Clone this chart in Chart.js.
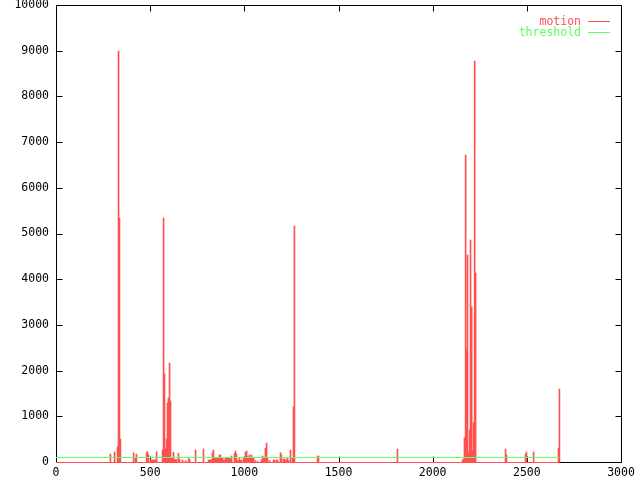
<!DOCTYPE html>
<html><head><meta charset="utf-8">
<script src="https://cdn.jsdelivr.net/npm/chart.js@4/dist/chart.umd.min.js"></script>
<style>html,body{margin:0;padding:0;background:#fff}#wrap{width:640px;height:480px}</style>
</head><body><div id="wrap"><canvas id="c" width="640" height="480"></canvas></div>
<script>
// ---- data ----
const frames = [289,311,327,332,337,342,412,422,427,481,486,491,502,507,512,518,523,528,534,
  566,571,576,582,587,592,597,603,608,613,619,624,629,634,640,650,656,672,688,704,709,
  741,783,810,815,820,826,831,836,842,847,852,858,863,868,873,879,884,889,895,900,905,911,916,921,927,932,
  948,953,958,964,969,974,980,985,996,1001,1006,1012,1017,1022,1027,1033,1038,1043,1049,1059,1070,
  1091,1097,1102,1107,1112,1118,1123,1134,1155,1160,1171,1176,1192,1197,1208,1213,1219,1224,1229,1235,
  1245,1256,1261,1266,1389,1394,1813,
  2159,2164,2169,2175,2180,2185,2191,2196,2201,2207,2212,2217,2223,2228,
  2387,2392,2493,2498,2536,2668,2673];
const motion = [175,219,335,8990,5340,500,204,100,175,204,226,160,44,44,44,44,44,44,226,
  263,5340,1925,284,503,1290,1400,2166,1335,102,87,215,44,58,58,190,58,44,30,66,66,
  263,285,44,44,44,44,204,263,102,80,80,80,80,153,153,80,80,44,44,80,102,102,102,102,66,131,
  190,240,175,30,30,80,30,44,102,102,219,240,116,80,153,80,153,80,80,30,10,
  44,131,66,102,300,414,80,30,44,44,44,44,204,153,66,66,44,44,80,30,
  263,80,1210,5165,131,131,284,
  44,66,532,6717,2472,4529,204,700,4857,3391,241,860,8774,4135,
  284,153,175,219,219,306,1597];
const thresholdLevel = [100];
const seriesNames = ['motion', 'threshold'];
const xTicks = [0, 500, 1000, 1500, 2000, 2500, 3000];
const yTicks = [0, 1000, 2000, 3000, 4000, 5000, 6000, 7000, 8000, 9000, 10000];

// ---- styling ----
const RED = '#ff5050', GREEN = '#5fff5f';
const FONT_FAMILY = '"DejaVu Sans Mono", "Liberation Mono", monospace';
const FONT_SIZE = 11.5;

const firstFrame = 0;
const lastFrame = frames[frames.length - 1];

const motionPoints = frames.map((f, i) => ({x: f, y: motion[i]}));
const thresholdPoints = [{x: firstFrame, y: thresholdLevel[0]}, {x: lastFrame, y: thresholdLevel[0]}];
const baselinePoints = [{x: firstFrame, y: 0}, {x: lastFrame, y: 0}];

const framePlugin = {
  id: 'frame',
  beforeDatasetsDraw(chart) {
    const {ctx, chartArea: a, scales} = chart;
    ctx.save();
    ctx.strokeStyle = '#000';
    ctx.lineWidth = 1;
    const L = Math.round(a.left) + 0.5, R = Math.round(a.right) + 0.5;
    const T = Math.round(a.top) + 0.5, B = Math.round(a.bottom) + 0.5;
    ctx.beginPath();
    ctx.rect(L, T, R - L, B - T);
    ctx.stroke();
    const tl = 6;
    ctx.beginPath();
    xTicks.forEach(v => {
      const px = Math.round(scales.x.getPixelForValue(v)) + 0.5;
      ctx.moveTo(px, B); ctx.lineTo(px, B - tl);
      ctx.moveTo(px, T); ctx.lineTo(px, T + tl);
    });
    yTicks.forEach(v => {
      const py = Math.round(scales.y.getPixelForValue(v)) + 0.5;
      ctx.moveTo(L, py); ctx.lineTo(L + tl, py);
      ctx.moveTo(R, py); ctx.lineTo(R - tl, py);
    });
    ctx.stroke();
    ctx.restore();
  }
};

// snap horizontal 1px lines onto a pixel row so they render crisp
const snapPlugin = {
  id: 'snap',
  beforeDatasetDraw(chart, args) {
    const meta = args.meta;
    chart.ctx.save();
    if (meta.type === 'line' && meta.data.length) {
      const y = meta.data[0].y;
      const off = Math.floor(y) + 0.5 - y;
      chart.ctx.translate(0, off);
    }
  },
  afterDatasetDraw(chart) {
    chart.ctx.restore();
  }
};

const legendPlugin = {
  id: 'gpLegend',
  afterDraw(chart) {
    const {ctx} = chart;
    ctx.save();
    ctx.font = FONT_SIZE + 'px ' + FONT_FAMILY;
    ctx.textAlign = 'right';
    ctx.textBaseline = 'middle';
    const items = chart.data.datasets.filter(d => d.showInKey)
      .sort((p, q) => p.keyOrder - q.keyOrder);
    items.forEach((d, i) => {
      const y = 22 + i * 11;
      ctx.fillStyle = d.keyColor;
      ctx.fillText(d.label, 581, y);
      ctx.strokeStyle = d.keyColor;
      ctx.lineWidth = 1;
      ctx.beginPath();
      ctx.moveTo(588, Math.round(y) - 0.5);
      ctx.lineTo(610, Math.round(y) - 0.5);
      ctx.stroke();
    });
    ctx.restore();
  }
};

new Chart(document.getElementById('c'), {
  type: 'bar',
  data: {
    datasets: [
      {
        type: 'bar', label: seriesNames[0], data: motionPoints,
        backgroundColor: RED, borderWidth: 0, barThickness: 1,
        showInKey: true, keyOrder: 0, keyColor: RED, order: 3
      },
      {
        type: 'line', label: '', data: baselinePoints,
        borderColor: RED, borderWidth: 1, pointRadius: 0, fill: false, clip: false,
        showInKey: false, order: 2
      },
      {
        type: 'line', label: seriesNames[1], data: thresholdPoints,
        borderColor: GREEN, borderWidth: 1, pointRadius: 0, fill: false, clip: false,
        showInKey: true, keyOrder: 1, keyColor: GREEN, order: 1
      }
    ]
  },
  options: {
    responsive: false,
    animation: false,
    devicePixelRatio: 1,
    layout: {padding: {top: 5, right: 19, left: 0, bottom: 0}},
    plugins: {legend: {display: false}, tooltip: {enabled: false}},
    events: [],
    scales: {
      x: {
        type: 'linear', min: 0, max: 3000, offset: false,
        grid: {display: false, drawTicks: false}, border: {display: false},
        afterBuildTicks: s => { s.ticks = xTicks.map(v => ({value: v})); },
        afterFit: s => { s.height = 18; s.paddingLeft = 0; s.paddingRight = 0; },
        ticks: {autoSkip: false, maxRotation: 0, padding: 4, color: '#000',
                callback: v => String(v),
                font: {family: FONT_FAMILY, size: FONT_SIZE}}
      },
      y: {
        type: 'linear', min: 0, max: 10000,
        grid: {display: false, drawTicks: false}, border: {display: false},
        afterBuildTicks: s => { s.ticks = yTicks.map(v => ({value: v})); },
        afterFit: s => { s.width = 56; s.paddingTop = 0; s.paddingBottom = 0; },
        ticks: {autoSkip: false, padding: 7, color: '#000',
                callback: v => String(v),
                font: {family: FONT_FAMILY, size: FONT_SIZE}}
      }
    }
  },
  plugins: [framePlugin, snapPlugin, legendPlugin]
});
</script>
</body></html>
